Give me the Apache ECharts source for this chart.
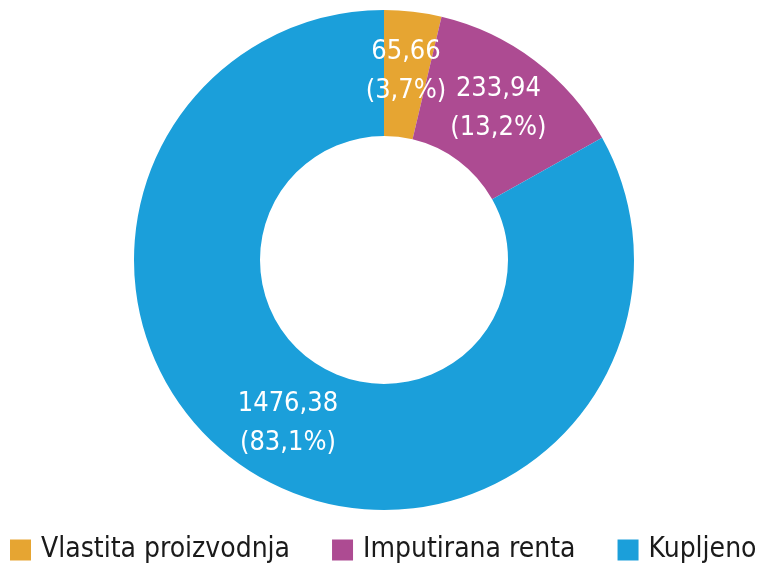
<!DOCTYPE html>
<html>
<head>
<meta charset="utf-8">
<script src="https://cdn.jsdelivr.net/npm/echarts@6/dist/echarts.min.js"></script>
<style>
  html, body { margin: 0; padding: 0; background: #fff; }
  #chart { width: 765px; height: 568px; }
</style>
</head>
<body>
<div id="chart"></div>
<script>
    var categories = ['Vlastita proizvodnja', 'Imputirana renta', 'Kupljeno'];
    var values = [65.66, 233.94, 1476.38];
    var valueLabels = ['65,66', '233,94', '1476,38'];
    var shareLabels = ['3,7%', '13,2%', '83,1%'];
    var colors = ['#E6A532', '#AD4B92', '#1B9FDA'];

    var FONT = '"DejaVu Sans Condensed", "Liberation Sans Narrow", sans-serif';

    //组装饼图数据
    var pieData = [];
    for (var i = 0; i < categories.length; i++) {
        pieData.push({
            name: categories[i],
            value: values[i],
            itemStyle: { color: colors[i] }
        });
    }

    var chart = echarts.init(document.getElementById('chart'));
    chart.setOption({
        animation: false,
        legend: {
            data: categories,
            top: 536,
            left: 10,
            width: 755,
            padding: 0,
            itemWidth: 21,
            itemHeight: 21,
            itemGap: 42,
            icon: 'rect',
            textStyle: {
                fontFamily: FONT,
                fontSize: 28,
                color: '#1a1a1a',
                padding: [0, 0, 0, 5]
            }
        },
        series: [{
            type: 'pie',
            center: [384, 260],
            radius: [124, 250],
            startAngle: 90,
            clockwise: true,
            avoidLabelOverlap: false,
            data: pieData,
            label: {
                position: 'inside',
                color: '#fff',
                fontFamily: FONT,
                fontSize: 27,
                lineHeight: 39,
                formatter: function (p) {
                    return valueLabels[p.dataIndex] + '\n(' + shareLabels[p.dataIndex] + ')';
                }
            },
            labelLayout: { hideOverlap: false },
            labelLine: { show: false },
            emphasis: { disabled: true }
        }]
    });
</script>
</body>
</html>
